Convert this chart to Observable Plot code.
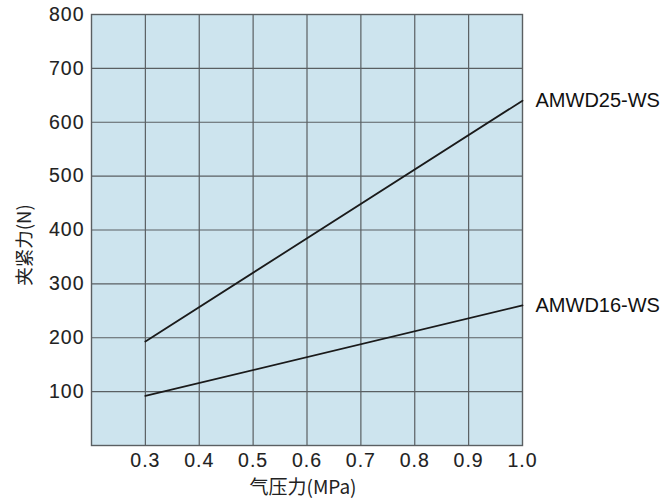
<!DOCTYPE html>
<html>
<head>
<meta charset="utf-8">
<script src="https://cdn.jsdelivr.net/npm/d3@7"></script>
<script src="https://cdn.jsdelivr.net/npm/@observablehq/plot@0.6"></script>
<style>
  html, body { margin: 0; padding: 0; background: #fff; }
  svg { display: block; }
</style>
</head>
<body>
<div id="chart"></div>
<script>
const pressure = [0.3, 1.0];
const amwd25 = [193, 640];
const amwd16 = [92, 260];
const seriesNames = ["AMWD25-WS", "AMWD16-WS"];
const xTicks = [0.3, 0.4, 0.5, 0.6, 0.7, 0.8, 0.9, 1.0];
const yTicks = [100, 200, 300, 400, 500, 600, 700, 800];
const xGrid = [0.3, 0.4, 0.5, 0.6, 0.7, 0.8, 0.9];
const yGrid = [100, 200, 300, 400, 500, 600, 700];
const xLabel = "气压力(MPa)";
const yLabel = "夹紧力(N)";

const data = [];
[amwd25, amwd16].forEach((vals, i) => {
  vals.forEach((v, j) => data.push({series: seriesNames[i], x: pressure[j], y: v}));
});
const ends = data.filter(d => d.x === pressure[pressure.length - 1]);

const font = "'Liberation Sans', Arial, 'Noto Sans CJK SC', sans-serif";
const gridColor = "#5a5f62";
const textColor = "#222";

const chart = Plot.plot({
  width: 670,
  height: 499,
  marginLeft: 91,
  marginRight: 148,
  marginTop: 14,
  marginBottom: 54,
  style: {fontFamily: font, fontSize: "19px", color: textColor, background: "#fff"},
  x: {domain: [0.2, 1.0]},
  y: {domain: [0, 800]},
  marks: [
    Plot.frame({fill: "#cde4ee", stroke: null}),
    Plot.ruleX(xGrid, {stroke: gridColor, strokeWidth: 1.2}),
    Plot.ruleY(yGrid, {stroke: gridColor, strokeWidth: 1.2}),
    Plot.frame({stroke: gridColor, strokeWidth: 1.4}),
    Plot.axisX({ticks: xTicks, tickFormat: d => d.toFixed(1), tickSize: 0, tickPadding: 8, label: null,
      fontSize: 19.5, fill: textColor}),
    Plot.axisY({ticks: yTicks, tickSize: 0, tickPadding: 7, label: null,
      fontSize: 19.5, fill: textColor}),
    Plot.line(data, {x: "x", y: "y", z: "series", stroke: "#1a1a1a", strokeWidth: 1.8}),
    Plot.text(ends, {x: "x", y: "y", text: "series", textAnchor: "start", dx: 13, fontSize: 20, fill: "#111"}),
    Plot.text([xLabel], {frameAnchor: "bottom", textAnchor: "middle", lineAnchor: "middle", dx: -4, dy: 42, text: d => d, fontSize: 19, fill: textColor,
      fontFamily: "'Noto Sans CJK SC', 'Liberation Sans', sans-serif"}),
    Plot.text([yLabel], {frameAnchor: "left", textAnchor: "middle", lineAnchor: "middle", dx: -66, dy: 15, rotate: -90, text: d => d, fontSize: 18.5, fill: textColor,
      fontFamily: "'Noto Sans CJK SC', 'Liberation Sans', sans-serif"})
  ]
});
d3.select(chart).selectAll("g[aria-label$='tick label']")
  .style("letter-spacing", "1px")
  .attr("stroke", textColor)
  .attr("stroke-width", 0.12);
document.getElementById("chart").appendChild(chart);
</script>
</body>
</html>
